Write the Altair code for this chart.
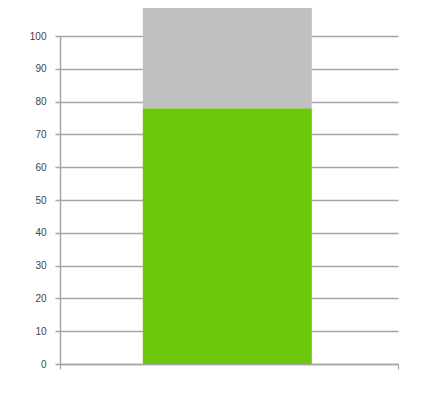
import altair as alt
import pandas as pd

segments = ["filled", "rest"]
values = [78, 32]
colors = ["#6BC80B", "#C0C0C0"]
y_ticks = [0, 10, 20, 30, 40, 50, 60, 70, 80, 90, 100]

starts, ends, acc = [], [], 0
for v in values:
    starts.append(acc)
    acc += v
    ends.append(acc)

df = pd.DataFrame({"segment": segments, "start": starts, "end": ends,
                   "x0": [0.49, 0.49], "x1": [1.49, 1.49]})

line_gray = "#A6A6A6"

chart = alt.Chart(df).mark_bar().encode(
    x=alt.X("x0:Q", scale=alt.Scale(domain=[0, 2], nice=False),
            axis=alt.Axis(values=[0, 2], labels=False, title=None, grid=False,
                          tickSize=5, tickColor=line_gray, domainColor=line_gray,
                          domainWidth=1.5, tickWidth=1.2)),
    x2="x1:Q",
    y=alt.Y("start:Q", scale=alt.Scale(domain=[0, 100], nice=False),
            axis=alt.Axis(values=y_ticks, title=None, grid=True, gridColor=line_gray,
                          gridWidth=1.5, tickWidth=1.5, domainWidth=1.5,
                          tickSize=5, tickColor=line_gray, domainColor=line_gray,
                          labelFont="Liberation Sans", labelFontSize=10,
                          labelColor="#444444", labelPadding=9)),
    y2="end:Q",
    color=alt.Color("segment:N", scale=alt.Scale(domain=segments, range=colors), legend=None),
).properties(
    width=338, height=328,
    autosize=alt.AutoSizeParams(type="none"),
    padding={"left": 52, "top": 28, "right": 17, "bottom": 36},
).configure_view(stroke=None)

chart.save("out.html", embed_options={"renderer": "svg", "actions": False})
